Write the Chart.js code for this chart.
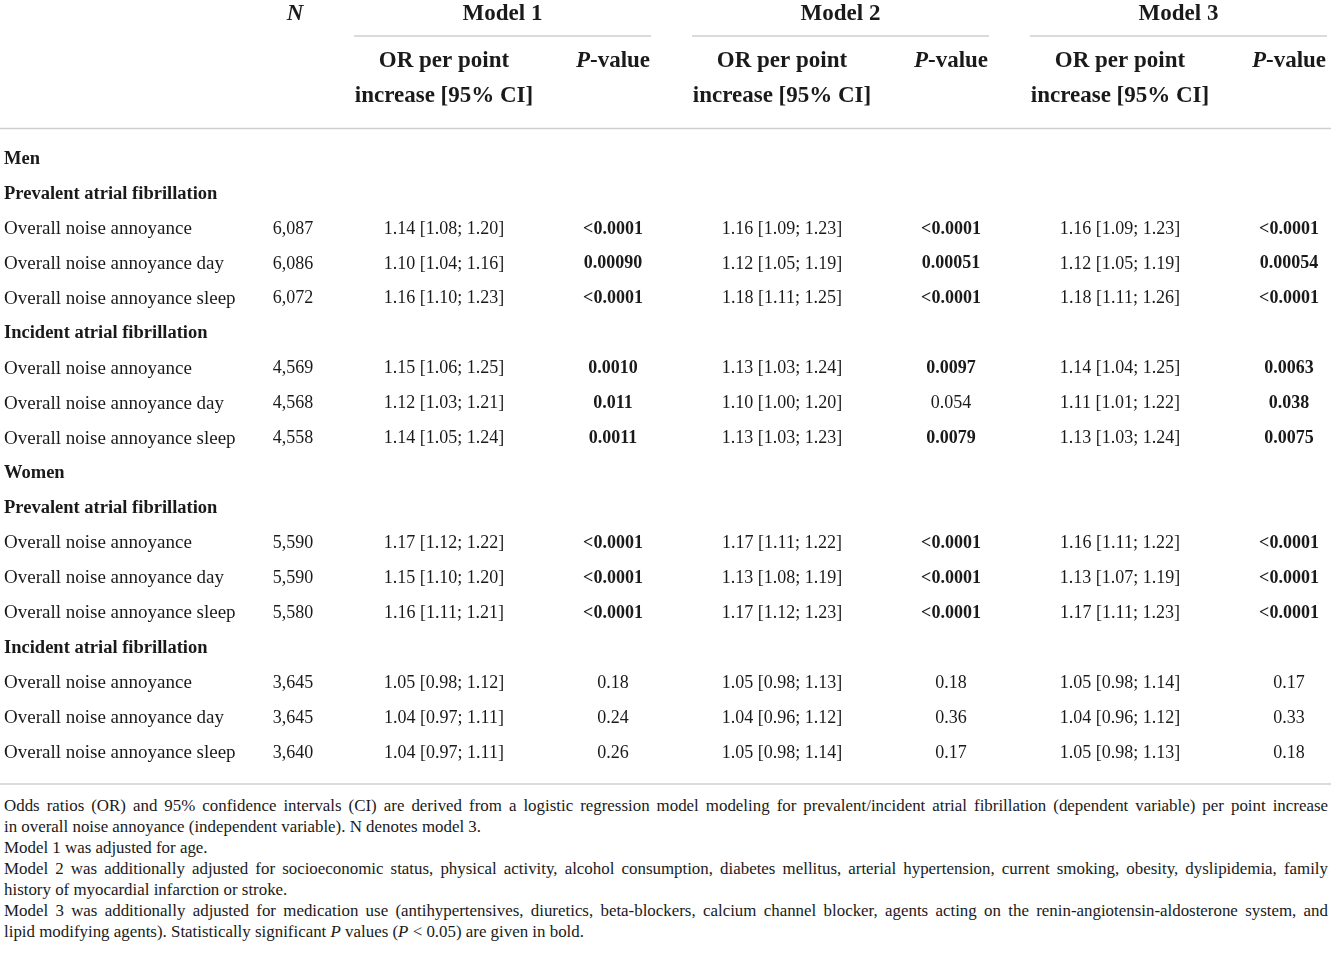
<!DOCTYPE html>
<html>
<head>
<meta charset="utf-8">
<script src="https://cdn.jsdelivr.net/npm/chart.js@4.4.1/dist/chart.umd.min.js"></script>
<style>
  body { margin: 0; background: #fff; }
  #wrap { position: relative; width: 1331px; }
  #notes { font-family: "Liberation Serif", "DejaVu Serif", serif; font-size: 16.9px; color: #1a1a1a; padding: 5px 0 0 4px; }
  #notes div { line-height: 21px; white-space: nowrap; width: 1324px; }
  #notes div.full { text-align: justify; text-align-last: justify; white-space: normal; }
</style>
</head>
<body>
<div id="wrap">
  <canvas id="myChart" width="1331" height="790"></canvas>
  <div id="notes">
    <div class="full">Odds ratios (OR) and 95% confidence intervals (CI) are derived from a logistic regression model modeling for prevalent/incident atrial fibrillation (dependent variable) per point increase</div>
    <div>in overall noise annoyance (independent variable). N denotes model 3.</div>
    <div>Model 1 was adjusted for age.</div>
    <div class="full">Model 2 was additionally adjusted for socioeconomic status, physical activity, alcohol consumption, diabetes mellitus, arterial hypertension, current smoking, obesity, dyslipidemia, family</div>
    <div>history of myocardial infarction or stroke.</div>
    <div class="full">Model 3 was additionally adjusted for medication use (antihypertensives, diuretics, beta-blockers, calcium channel blocker, agents acting on the renin-angiotensin-aldosterone system, and</div>
    <div>lipid modifying agents). Statistically significant <i>P</i> values (<i>P</i> &lt; 0.05) are given in bold.</div>
  </div>
</div>
<script>
// columns of the table (x categories)
const columns = ["N", "OR1", "P1", "OR2", "P2", "OR3", "P3"];
const modelNames = ["Model 1", "Model 2", "Model 3"];

// rows of the table; level 0 = sex, 1 = outcome, 2 = exposure
const rowLabels = [
  "Men",
  "Prevalent atrial fibrillation",
  "Overall noise annoyance", "Overall noise annoyance day", "Overall noise annoyance sleep",
  "Incident atrial fibrillation",
  "Overall noise annoyance", "Overall noise annoyance day", "Overall noise annoyance sleep",
  "Women",
  "Prevalent atrial fibrillation",
  "Overall noise annoyance", "Overall noise annoyance day", "Overall noise annoyance sleep",
  "Incident atrial fibrillation",
  "Overall noise annoyance", "Overall noise annoyance day", "Overall noise annoyance sleep"
];
const rowLevels = [0, 1, 2, 2, 2, 1, 2, 2, 2, 0, 1, 2, 2, 2, 1, 2, 2, 2];

const nValues = [null, null, 6087, 6086, 6072, null, 4569, 4568, 4558,
                 null, null, 5590, 5590, 5580, null, 3645, 3645, 3640];

// Model 1
const m1Or = [null, null, 1.14, 1.10, 1.16, null, 1.15, 1.12, 1.14, null, null, 1.17, 1.15, 1.16, null, 1.05, 1.04, 1.04];
const m1Lo = [null, null, 1.08, 1.04, 1.10, null, 1.06, 1.03, 1.05, null, null, 1.12, 1.10, 1.11, null, 0.98, 0.97, 0.97];
const m1Hi = [null, null, 1.20, 1.16, 1.23, null, 1.25, 1.21, 1.24, null, null, 1.22, 1.20, 1.21, null, 1.12, 1.11, 1.11];
const m1P = [null, null, "<0.0001", "0.00090", "<0.0001", null, "0.0010", "0.011", "0.0011",
             null, null, "<0.0001", "<0.0001", "<0.0001", null, "0.18", "0.24", "0.26"];

// Model 2
const m2Or = [null, null, 1.16, 1.12, 1.18, null, 1.13, 1.10, 1.13, null, null, 1.17, 1.13, 1.17, null, 1.05, 1.04, 1.05];
const m2Lo = [null, null, 1.09, 1.05, 1.11, null, 1.03, 1.00, 1.03, null, null, 1.11, 1.08, 1.12, null, 0.98, 0.96, 0.98];
const m2Hi = [null, null, 1.23, 1.19, 1.25, null, 1.24, 1.20, 1.23, null, null, 1.22, 1.19, 1.23, null, 1.13, 1.12, 1.14];
const m2P = [null, null, "<0.0001", "0.00051", "<0.0001", null, "0.0097", "0.054", "0.0079",
             null, null, "<0.0001", "<0.0001", "<0.0001", null, "0.18", "0.36", "0.17"];

// Model 3
const m3Or = [null, null, 1.16, 1.12, 1.18, null, 1.14, 1.11, 1.13, null, null, 1.16, 1.13, 1.17, null, 1.05, 1.04, 1.05];
const m3Lo = [null, null, 1.09, 1.05, 1.11, null, 1.04, 1.01, 1.03, null, null, 1.11, 1.07, 1.11, null, 0.98, 0.96, 0.98];
const m3Hi = [null, null, 1.23, 1.19, 1.26, null, 1.25, 1.22, 1.24, null, null, 1.22, 1.19, 1.23, null, 1.14, 1.12, 1.13];
const m3P = [null, null, "<0.0001", "0.00054", "<0.0001", null, "0.0063", "0.038", "0.0075",
             null, null, "<0.0001", "<0.0001", "<0.0001", null, "0.17", "0.33", "0.18"];

const SERIF = '"Liberation Serif", "DejaVu Serif", serif';
const INK = "#1a1a1a";
const RULE = "#cfcfcf";

const fmtCi = (or, lo, hi) => `${or.toFixed(2)} [${lo.toFixed(2)}; ${hi.toFixed(2)}]`;
const isSig = (p) => parseFloat(p.replace("<", "")) < 0.05;

function cells(col, values, toText, toBold) {
  const data = [];
  values.forEach((v, i) => {
    if (v === null) return;
    data.push({ x: col, y: i, text: toText(v, i), bold: toBold ? toBold(v, i) : false });
  });
  return data;
}

const models = [[m1Or, m1Lo, m1Hi, m1P], [m2Or, m2Lo, m2Hi, m2P], [m3Or, m3Lo, m3Hi, m3P]];
const datasets = [
  { label: "N", data: cells("N", nValues, (v) => v.toLocaleString("en-US")), nudge: 18 }
];
models.forEach(([or, lo, hi, p], k) => {
  datasets.push({ label: "OR" + (k + 1), data: cells("OR" + (k + 1), or, (v, i) => fmtCi(v, lo[i], hi[i])) });
  datasets.push({ label: "P" + (k + 1), data: cells("P" + (k + 1), p, (v) => v, (v) => isSig(v)) });
});
datasets.forEach((d) => { d.pointRadius = 0; d.pointHoverRadius = 0; });

const tablePlugin = {
  id: "tableText",
  afterDatasetsDraw(chart) {
    const { ctx, scales: { x, y }, chartArea } = chart;
    ctx.save();
    ctx.fillStyle = INK;
    ctx.textBaseline = "middle";

    // header
    const top = chartArea.top;
    ctx.textAlign = "center";
    ctx.font = `italic bold 23px ${SERIF}`;
    ctx.fillText("N", x.getPixelForValue(0) + 20, top - 144);
    modelNames.forEach((name, k) => {
      const orX = x.getPixelForValue(1 + 2 * k);
      const pX = x.getPixelForValue(2 + 2 * k);
      const l = orX - 90, r = pX + 38;
      ctx.font = `bold 23px ${SERIF}`;
      ctx.fillText(name, (l + r) / 2, top - 144);
      ctx.fillText("OR per point", orX, top - 97);
      ctx.fillText("increase [95% CI]", orX, top - 62);
      // P-value with italic P
      const w1 = (ctx.font = `italic bold 23px ${SERIF}`, ctx.measureText("P").width);
      const w2 = (ctx.font = `bold 23px ${SERIF}`, ctx.measureText("-value").width);
      ctx.textAlign = "left";
      ctx.font = `italic bold 23px ${SERIF}`;
      ctx.fillText("P", pX - (w1 + w2) / 2, top - 97);
      ctx.font = `bold 23px ${SERIF}`;
      ctx.fillText("-value", pX - (w1 + w2) / 2 + w1, top - 97);
      ctx.textAlign = "center";
      ctx.strokeStyle = RULE;
      ctx.lineWidth = 1.5;
      ctx.beginPath();
      ctx.moveTo(l, top - 122);
      ctx.lineTo(r, top - 122);
      ctx.stroke();
    });

    // horizontal rules
    ctx.strokeStyle = RULE;
    ctx.lineWidth = 1.5;
    [top - 29.5, chartArea.bottom + 32].forEach((ry) => {
      ctx.beginPath();
      ctx.moveTo(0, ry);
      ctx.lineTo(chart.width, ry);
      ctx.stroke();
    });

    // row labels
    ctx.textAlign = "left";
    rowLabels.forEach((lab, i) => {
      ctx.font = (rowLevels[i] < 2 ? "bold 18.5px " : "19px ") + SERIF;
      ctx.fillText(lab, 4, y.getPixelForValue(i) + 1);
    });

    // cells, placed at each point element
    ctx.textAlign = "center";
    chart.data.datasets.forEach((ds, di) => {
      const meta = chart.getDatasetMeta(di);
      ds.data.forEach((c, j) => {
        const el = meta.data[j];
        ctx.font = (c.bold ? "bold " : "") + `18px ${SERIF}`;
        ctx.fillText(c.text, el.x + (ds.nudge || 0), el.y + 1);
      });
    });
    ctx.restore();
  }
};

new Chart(document.getElementById("myChart"), {
  type: "scatter",
  data: { labels: columns, datasets: datasets },
  options: {
    responsive: false,
    animation: false,
    events: [],
    layout: { padding: { left: 275, right: 42, top: 158, bottom: 38 }, autoPadding: false },
    plugins: { legend: { display: false }, tooltip: { enabled: false } },
    scales: {
      x: { type: "category", labels: columns, offset: false, display: false },
      y: { type: "linear", reverse: true, min: 0, max: rowLabels.length - 1, display: false }
    }
  },
  plugins: [tablePlugin]
});
</script>
</body>
</html>
